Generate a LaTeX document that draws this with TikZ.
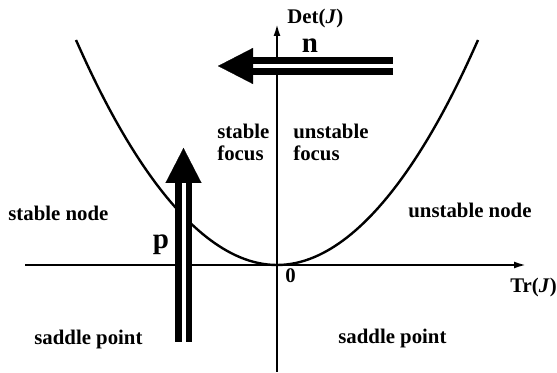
\documentclass[tikz,border=0pt]{standalone}
\usepackage{fontspec}
\setmainfont{Liberation Serif}
\usetikzlibrary{arrows.meta, calc}

\begin{document}
\begin{tikzpicture}[
    x=0.5pt, y=-0.5pt,
    font=\bfseries\fontsize{10.4}{10.6}\selectfont,
    >=Latex,
    % styles
    lbl/.style={inner sep=0pt, anchor=base west},
    big/.style={inner sep=0pt, anchor=base, font=\bfseries\fontsize{14.5}{15}\selectfont},
    axisline/.style={line width=1pt, -{Latex[length=6pt, width=3.5pt]}},
    curve/.style={line width=1.2pt},
    shaft/.style={double, double distance=2pt, line width=3.3pt, shorten >=16.5pt},
    head/.style={line width=0.1pt, -{Triangle[length=17.5pt, width=18pt]}}
]
    \useasboundingbox (0,0) rectangle (557,373);

    % ================= AXES =================
    \coordinate (orig) at (277,265);
    \coordinate (xstart) at (25,265);
    \coordinate (xend) at (526,265);
    \coordinate (ystart) at (277,372);
    \coordinate (yend) at (277,24);
    \draw[axisline] (xstart) -- (xend);
    \draw[axisline] (ystart) -- (yend);

    % ================= PARABOLA =================
    \draw[curve] (76,40) parabola bend (orig) (478,40);

    % ================= AXIS LABELS =================
    \node[lbl] (detlbl) at (287,24) {Det(\textit{J})};
    \node[lbl] (trlbl) at (510,293) {Tr(\textit{J})};
    \node[lbl] (zero) at (285,283) {0};

    % ================= REGIONS =================
    \node[lbl] (snode) at (8,221) {stable node};
    \node[lbl] (unode) at (408,218) {unstable node};
    \node[lbl] (ssad) at (34,345) {saddle point};
    \node[lbl] (usad) at (338,344) {saddle point};
    \node[lbl, anchor=north west, align=left] (sfoc) at (217,124) {stable\\focus};
    \node[lbl, anchor=north west, align=left] (ufoc) at (293,124) {unstable\\focus};

    % ================= PERTURBATION ARROWS =================
    \coordinate (ntail) at (393,66);
    \coordinate (ntip) at (218,66);
    \draw[shaft] (ntail) -- (ntip);
    \draw[head] ($(ntip)!17pt!(ntail)$) -- (ntip);
    \node[big] (nlbl) at (310,53) {n};

    \coordinate (ptail) at (183.5,342);
    \coordinate (ptip) at (183.5,148);
    \draw[shaft] (ptail) -- (ptip);
    \draw[head] ($(ptip)!17pt!(ptail)$) -- (ptip);
    \node[big] (plbl) at (161,249) {p};

\end{tikzpicture}
\end{document}
